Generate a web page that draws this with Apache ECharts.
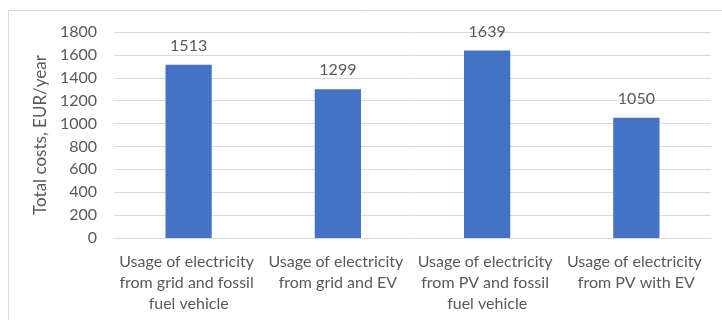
<!DOCTYPE html>
<html>
<head>
<meta charset="utf-8">
<script src="https://cdn.jsdelivr.net/npm/echarts@6/dist/echarts.min.js"></script>
<style>
  html, body { margin: 0; padding: 0; background: #fff; }
  #chart { width: 722px; height: 320px; }
</style>
</head>
<body>
<div id="chart"></div>
<script>
// Annual total costs per energy scenario
const categories = [
  'Usage of electricity from grid and fossil fuel vehicle',
  'Usage of electricity from grid and EV',
  'Usage of electricity from PV and fossil fuel vehicle',
  'Usage of electricity from PV with EV'
];
const totalCosts = [1513, 1299, 1639, 1050];
const yTicks = { min: 0, max: 1800, interval: 200 };
const yAxisTitle = 'Total costs, EUR/year';

const textColor = '#595959';
const font = 'Lato, "Open Sans", sans-serif';

const chart = echarts.init(document.getElementById('chart'), null, { renderer: 'canvas' });
chart.setOption({
  animation: false,
  backgroundColor: '#fff',
  grid: { left: 114, right: 11, top: 32, bottom: 82 },
  graphic: [{
    type: 'rect',
    shape: { x: 8.5, y: 10.5, width: 800, height: 400 },
    style: { fill: 'none', stroke: '#d9d9d9', lineWidth: 1 },
    silent: true,
    z: -1
  }],
  xAxis: {
    type: 'category',
    data: categories,
    axisLine: { show: true, lineStyle: { color: '#d9d9d9', width: 1 } },
    axisTick: { show: false },
    axisLabel: {
      interval: 0,
      color: textColor,
      fontFamily: font,
      fontSize: 16,
      lineHeight: 21,
      margin: 13,
      width: 148,
      overflow: 'break'
    }
  },
  yAxis: {
    type: 'value',
    min: yTicks.min,
    max: yTicks.max,
    interval: yTicks.interval,
    name: yAxisTitle,
    nameLocation: 'middle',
    nameGap: 55,
    nameTextStyle: { color: textColor, fontFamily: font, fontSize: 17 },
    axisLine: { show: false },
    axisTick: { show: false },
    axisLabel: {
      color: textColor,
      fontFamily: font,
      fontSize: 16,
      margin: 17,
      formatter: v => String(v)
    },
    splitLine: { lineStyle: { color: '#d9d9d9', width: 1 } }
  },
  series: [{
    type: 'bar',
    data: totalCosts,
    barWidth: '31%',
    itemStyle: { color: '#4472C4' },
    label: {
      show: true,
      position: 'top',
      distance: 11,
      color: textColor,
      fontFamily: font,
      fontSize: 16
    }
  }]
});
</script>
</body>
</html>
